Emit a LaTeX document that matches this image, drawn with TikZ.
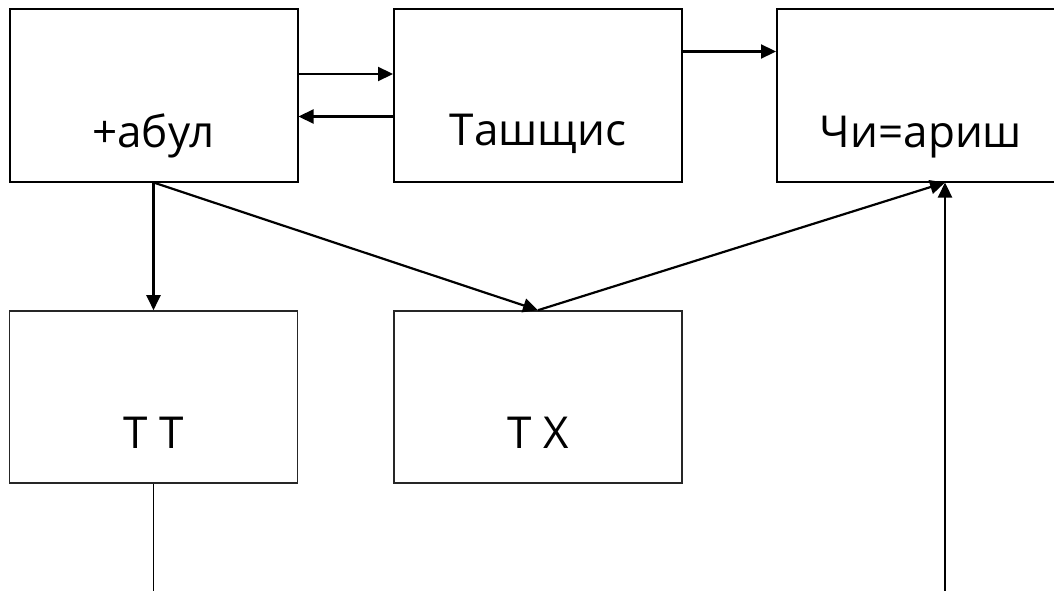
\documentclass[tikz,border=0pt]{standalone}
\usepackage{fontspec}
\setmainfont{Open Sans}
\usetikzlibrary{arrows.meta}
\begin{document}
\begin{tikzpicture}[x=1pt,y=-1pt,
  box/.style={draw=black,line width=2pt,minimum width=288pt,minimum height=172pt,inner sep=0pt,fill=white},
  lowbox/.style={draw=black!85,line width=1.6pt,minimum width=288pt,minimum height=172pt,inner sep=0pt,fill=white},
  lbl/.style={font=\fontsize{44}{52}\selectfont,anchor=base,inner sep=0pt},
  arr/.style={line width=2.2pt,-{Triangle[length=15pt,width=14pt]}},
  thin/.style={line width=1.3pt,draw=black}]
\useasboundingbox (0,0) rectangle (1054,591);
\fill[white] (0,0) rectangle (1054,591);
\begin{scope}
\clip (0,0) rectangle (1054,591);
\node[box] (A) at (153.5,95.5) {};
\node[box] (B) at (538,95.5) {};
\node[box] (C) at (921,95.5) {};
\node[lowbox] (D) at (153.5,397) {};
\node[lowbox] (E) at (538,397) {};
\node[lbl] (At) at ([yshift=35.5pt]A.south) {+абул};
\node[lbl] (Bt) at ([yshift=36.5pt]B.south) {Ташщис};
\node[lbl] (Ct) at ([yshift=35.5pt]C.south) {Чи=ариш};
\node[lbl] (Dt) at ([yshift=35pt]D.south) {Т Т};
\node[lbl] (Et) at ([yshift=35pt]E.south) {Т Х};
\coordinate (Cin) at ([xshift=24pt]C.south);
\coordinate (Dout) at (D.south |- 0,600);
\coordinate (Rin) at (Cin |- 0,600);
\draw[arr] ([yshift=21.5pt]A.east) -- ([yshift=21.5pt]B.west);
\draw[arr] ([yshift=-21pt]B.west) -- ([yshift=-21pt]A.east);
\draw[arr] ([yshift=44pt]B.east) -- ([yshift=44pt]C.west);
\draw[arr] (A.south) -- (D.north);
\draw[arr] (A.south) -- (E.north);
\draw[arr] (E.north) -- (Cin);
\draw[thin] (D.south) -- (Dout);
\draw[arr] (Rin) -- (Cin);
\end{scope}
\end{tikzpicture}
\end{document}
